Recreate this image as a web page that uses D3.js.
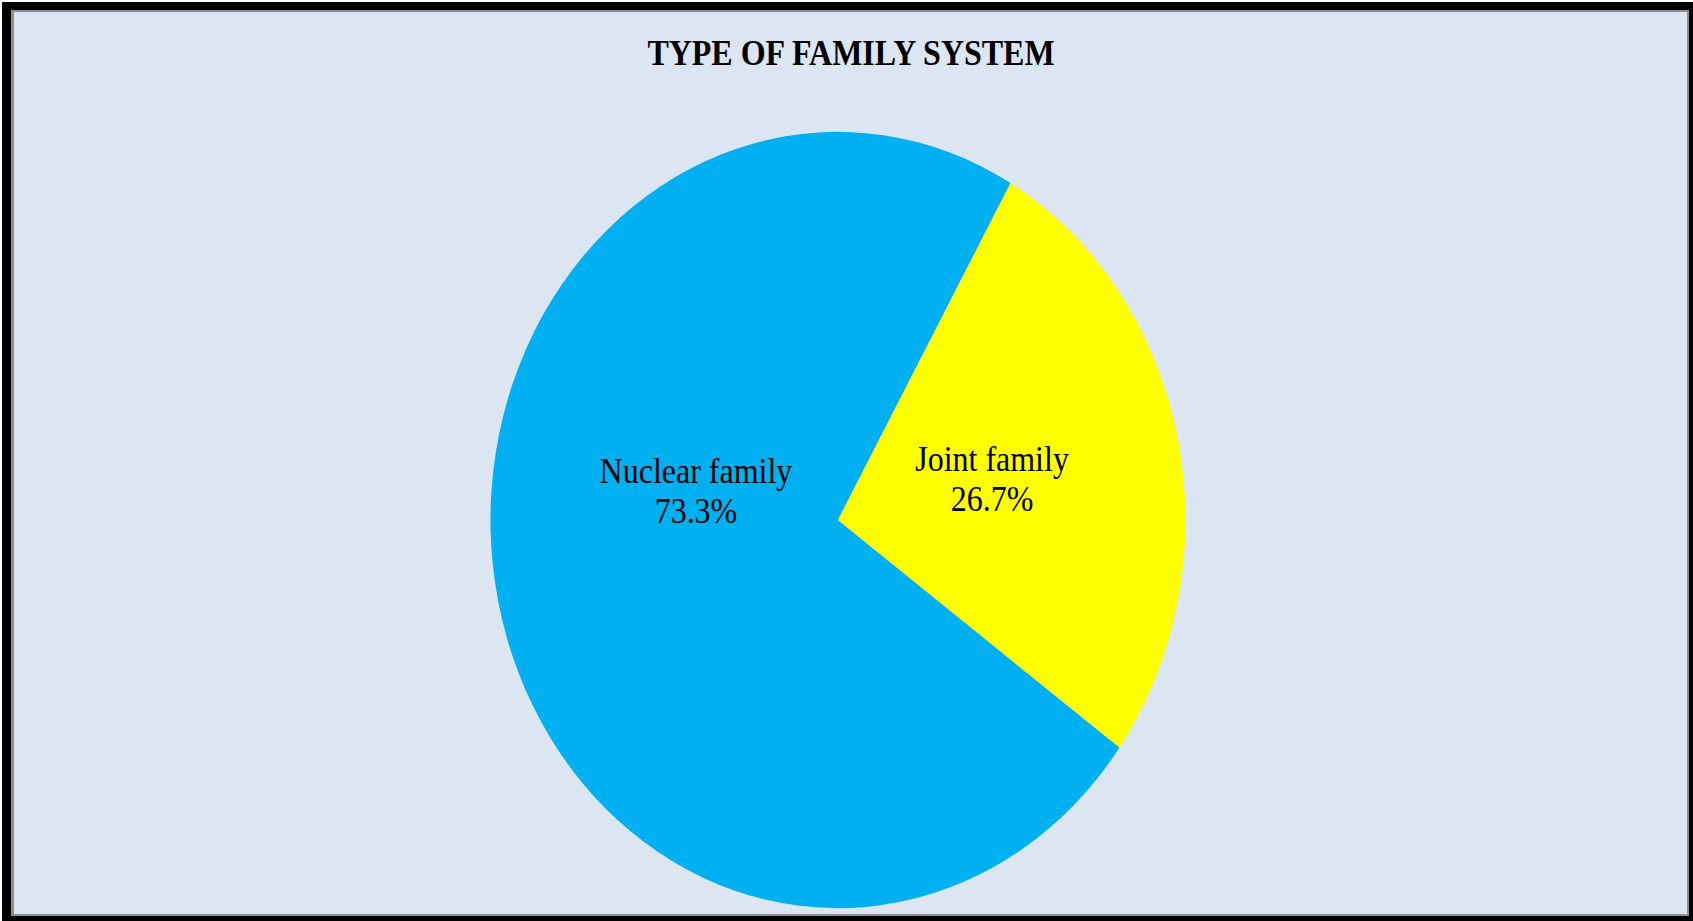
<!DOCTYPE html>
<html>
<head>
<meta charset="utf-8">
<script src="https://cdn.jsdelivr.net/npm/d3@7"></script>
<style>
  html, body { margin: 0; padding: 0; background: #ffffff; }
  svg { display: block; }
</style>
</head>
<body>
<script>
// Chart data
const chartTitle = "TYPE OF FAMILY SYSTEM";
const categories = ["Nuclear family", "Joint family"];
const percentages = [73.3, 26.7];
const sliceColors = ["#00B0F0", "#FFFF00"];

// Layout
const W = 1693, H = 921;
const stretchY = 1.117;          // the whole plot is drawn slightly taller than wide
const cx = 838, cy = 520, R = 347.5;
const startDeg = 125.9;          // first slice begins here (clockwise from 12 o'clock)
const fontFamily = "'Liberation Serif', 'Times New Roman', serif";
// label placement within each slice: fraction of radius and angular nudge (deg)
const labelRadiusFrac = [0.4155, 0.456];
const labelAngleNudge = [22.5, -1.4];
const labelSize = 32, labelLine = 36;

const svg = d3.select("body").append("svg")
  .attr("width", W).attr("height", H);

// Frame: black outer band, thin grey rule, light blue chart area
svg.append("rect").attr("x", 2).attr("y", 2).attr("width", W - 2).attr("height", H - 2).attr("fill", "#000");
svg.append("rect").attr("x", 11).attr("y", 10).attr("width", 1689 - 11).attr("height", 916 - 10).attr("fill", "#8e8e8e");
svg.append("rect").attr("x", 14).attr("y", 12).attr("width", 1687 - 14).attr("height", 914 - 12).attr("fill", "#DCE6F2");

// Title
svg.append("text")
  .attr("transform", `translate(851,65) scale(1,${stretchY})`)
  .attr("text-anchor", "middle")
  .attr("font-family", fontFamily)
  .attr("font-weight", "bold")
  .attr("font-size", 32)
  .attr("fill", "#000")
  .text(chartTitle);

// Pie
const data = categories.map((c, i) => ({ name: c, value: percentages[i], color: sliceColors[i], i }));
const toRad = d => d * Math.PI / 180;
const pie = d3.pie().value(d => d.value).sort(null)
  .startAngle(toRad(startDeg)).endAngle(toRad(startDeg) + 2 * Math.PI);
const arc = d3.arc().innerRadius(0).outerRadius(R);
const arcs = pie(data);

const g = svg.append("g").attr("transform", `translate(${cx},${cy}) scale(1,${stretchY})`);

g.selectAll("path.slice").data(arcs).enter().append("path")
  .attr("class", "slice")
  .attr("d", arc)
  .attr("fill", d => d.data.color);

// Data labels: category name on one line, percentage below
const fmt = d3.format(".1f");
const labels = g.selectAll("text.lbl").data(arcs).enter().append("text")
  .attr("class", "lbl")
  .attr("text-anchor", "middle")
  .attr("font-family", fontFamily)
  .attr("font-size", labelSize)
  .attr("fill", "#000")
  .attr("transform", d => {
    const a = (d.startAngle + d.endAngle) / 2 + toRad(labelAngleNudge[d.data.i]);
    const r = R * labelRadiusFrac[d.data.i];
    return `translate(${r * Math.sin(a)},${-r * Math.cos(a)})`;
  });
labels.append("tspan").attr("x", 0).attr("y", -labelLine / 2 + 31 * 0.35).text(d => d.data.name);
labels.append("tspan").attr("x", 0).attr("y", labelLine / 2 + 31 * 0.35).text(d => fmt(d.data.value) + "%");
</script>
</body>
</html>
